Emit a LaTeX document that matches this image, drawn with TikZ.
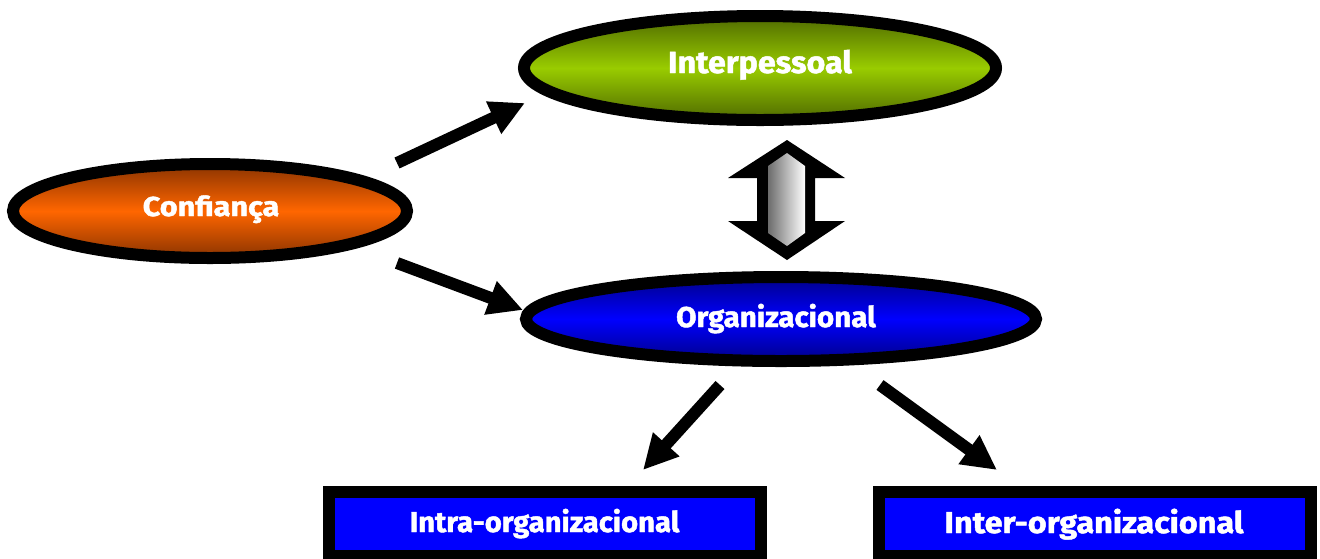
\documentclass[tikz,border=0pt]{standalone}
\usepackage{fontspec}
\setmainfont{Fira Sans}[BoldFeatures={FakeBold=1.5}]
\usetikzlibrary{shapes.geometric,arrows.meta}
\definecolor{orangeC}{HTML}{FF6600}
\definecolor{orangeD}{HTML}{8A3300}
\definecolor{greenC}{HTML}{99CC00}
\definecolor{greenD}{HTML}{4F6A00}
\definecolor{blueC}{HTML}{0000FF}
\definecolor{blueD}{HTML}{00008A}
\tikzset{
  ell/.style={ellipse, draw=black, line width=9pt, inner sep=0pt},
  boxr/.style={rectangle, draw=black, line width=9pt, fill=blueC, inner sep=0pt, minimum width=324pt, minimum height=48pt},
  lbl/.style={text=white, font=\bfseries, anchor=base, inner sep=0pt},
  blk/.style={line width=9pt, line cap=butt, -{Triangle[length=26pt,width=25pt]}}
}
\begin{document}
\begin{tikzpicture}[x=0.75pt,y=-0.75pt]
\useasboundingbox (0,0) rectangle (1320,558);
% ellipses
\node[ell, minimum width=295.5pt, minimum height=70.5pt, top color=orangeD, bottom color=orangeD, middle color=orangeC] (conf) at (210,211) {};
\node[ell, minimum width=354pt, minimum height=78pt, top color=greenD, bottom color=greenD, middle color=greenC] (inter) at (760,68) {};
\node[ell, minimum width=382.5pt, minimum height=63pt, top color=blueD, bottom color=blueD, middle color=blueC] (org) at (781,319) {};
% boxes
\node[boxr] (intra) at (545,524) {};
\node[boxr] (interorg) at (1095,524) {};
% labels
\node[lbl, font=\bfseries\fontsize{20.5pt}{24pt}\selectfont] (confT) at (211,216) {\scalebox{1.12}[1]{Confiança}};
\node[lbl, font=\bfseries\fontsize{23pt}{27pt}\selectfont] (interT) at (760,73) {\scalebox{1.05}[1]{Interpessoal}};
\node[lbl, font=\bfseries\fontsize{21.5pt}{25pt}\selectfont] (orgT) at (776,327) {\scalebox{1.03}[1]{Organizacional}};
\node[lbl, font=\bfseries\fontsize{21.5pt}{25pt}\selectfont] (intraT) at (544.5,532) {\scalebox{1.02}[1]{Intra-organizacional}};
\node[lbl, font=\bfseries\fontsize{22.5pt}{26pt}\selectfont] (interorgT) at (1094,533) {\scalebox{1.08}[1]{Inter-organizacional}};
% arrow end coordinates
\coordinate (a1s) at (397,163);
\coordinate (a1e) at (525,103);
\coordinate (a2s) at (397,263);
\coordinate (a2e) at (523,310);
\coordinate (a3s) at (720,385);
\coordinate (a3e) at (643,470);
\coordinate (a4s) at (880,385);
\coordinate (a4e) at (997,470);
\draw[blk] (a1s) -- (a1e);
\draw[blk] (a2s) -- (a2e);
\draw[blk] (a3s) -- (a3e);
\draw[blk] (a4s) -- (a4e);
% double block arrow
\coordinate (dbl) at (787,200);
\fill[black] (787,140) -- (845,178) -- (815,178) -- (815,221) -- (845,221) -- (787,260) -- (728,221) -- (757,221) -- (757,178) -- (728,178) -- cycle;
\shade[left color=gray!85!black, right color=white] (787,153) -- (805,166) -- (805,233) -- (787,246) -- (768,233) -- (768,166) -- cycle;
\end{tikzpicture}
\end{document}
